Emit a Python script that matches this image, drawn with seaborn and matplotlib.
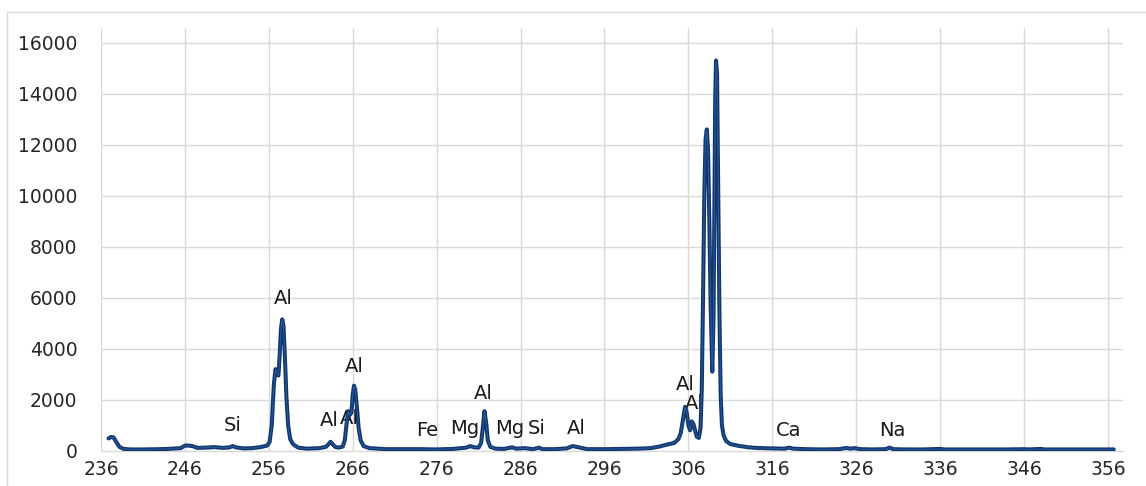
import matplotlib
matplotlib.use("Agg")
import matplotlib.pyplot as plt
import seaborn as sns
import pandas as pd
from matplotlib.lines import Line2D

# Wavelength (nm) and intensity
wavelength = [
    236.9, 237.2, 237.5, 237.8, 238.2, 238.7, 239.5, 241.0, 243.0, 244.0,
    245.5, 246.0, 246.5, 247.0, 247.5, 248.5, 249.5, 250.5, 251.3, 251.7,
    252.1, 253.0, 254.0, 255.0, 255.8, 256.1, 256.35, 256.6, 256.8, 257.0,
    257.15, 257.3, 257.45, 257.6, 257.75, 257.9, 258.1, 258.3, 258.55, 258.9,
    259.5, 260.5, 262.0, 262.8, 263.1, 263.35, 263.6, 263.9, 264.3, 264.8,
    265.05, 265.25, 265.45, 265.65, 265.85, 266.0, 266.15, 266.3, 266.5, 266.7,
    266.95, 267.3, 268.0, 270.0, 272.0, 274.0, 276.0, 278.0, 279.5, 280.0,
    280.5, 281.0, 281.3, 281.5, 281.7, 281.9, 282.1, 282.4, 283.0, 284.0,
    285.0, 285.5, 286.5, 287.5, 288.2, 288.6, 290.0, 291.5, 292.2, 292.7,
    293.2, 294.0, 296.0, 298.0, 300.0, 301.5, 302.5, 303.2, 303.7, 304.3,
    304.8, 305.1, 305.35, 305.6, 305.8, 306.0, 306.2, 306.4, 306.6, 306.8,
    307.0, 307.25, 307.45, 307.6, 307.75, 307.9, 308.05, 308.2, 308.35, 308.5,
    308.65, 308.85, 309.0, 309.1, 309.2, 309.3, 309.42, 309.55, 309.7, 309.85,
    310.0, 310.2, 310.5, 311.0, 312.0, 313.0, 314.0, 316.0, 317.5, 318.0,
    318.5, 320.0, 322.0, 324.0, 324.8, 325.3, 325.8, 326.5, 328.0, 329.5,
    330.0, 330.4, 332.0, 334.0, 336.0, 336.5, 340.0, 344.0, 346.0, 346.5,
    348.0, 348.5, 352.0, 356.7,
]
intensity = [
    480, 540, 520, 350, 150, 70, 50, 50, 60, 70,
    100, 200, 200, 170, 110, 120, 140, 110, 130, 180,
    130, 90, 100, 140, 200, 350, 1000, 2600, 3200, 3000,
    2950, 3800, 4800, 5150, 4900, 3800, 2100, 1000, 450, 250,
    120, 80, 100, 150, 250, 350, 260, 150, 120, 160,
    400, 1000, 1550, 1400, 1500, 2200, 2550, 2400, 1700, 900,
    400, 180, 100, 60, 60, 60, 50, 70, 120, 180,
    130, 120, 300, 900, 1550, 1100, 400, 150, 80, 70,
    130, 80, 100, 60, 120, 60, 60, 90, 180, 150,
    110, 60, 60, 70, 80, 100, 160, 220, 260, 300,
    450, 700, 1200, 1720, 1500, 1000, 800, 1150, 1050, 800,
    550, 500, 900, 2400, 6000, 10000, 12200, 12600, 11800, 9000,
    5800, 3100, 5200, 9500, 13800, 15300, 14800, 10500, 5500, 2200,
    1000, 600, 380, 260, 190, 140, 110, 90, 80, 120,
    80, 60, 50, 60, 110, 80, 100, 60, 50, 60,
    120, 60, 50, 50, 70, 50, 50, 50, 60, 50,
    70, 50, 50, 50,
]

# Element labels: text, x (nm), y (intensity)
label_text = ["Si", "Al", "Al", "Al", "Al", "Fe", "Mg", "Al", "Mg", "Si",
              "Al", "Al", "Al", "Ca", "Na"]
label_x = [251.7, 257.7, 263.2, 265.6, 266.2, 274.9, 279.3, 281.6, 284.7, 287.9,
           292.7, 305.6, 306.7, 318.0, 330.3]
label_y = [1000, 5950, 1200, 1270, 3300, 810, 880, 2260, 880, 880,
           880, 2600, 1850, 810, 810]

x_ticks = [236, 246, 256, 266, 276, 286, 296, 306, 316, 326, 336, 346, 356]
y_ticks = [0, 2000, 4000, 6000, 8000, 10000, 12000, 14000, 16000]

df = pd.DataFrame({"wavelength": wavelength, "intensity": intensity})

sns.set_style("white")
plt.rcParams["font.family"] = ["DejaVu Sans"]

fig = plt.figure(figsize=(11.46, 4.86), dpi=100)
ax = fig.add_axes([101 / 1146, 1 - 450.7 / 486, (1123 - 101) / 1146, (450.7 - 28) / 486])

ax.set_xlim(236, 357.8)
ax.set_ylim(0, 16576)

for xt in x_ticks:
    ax.axvline(xt, color="#d9d9d9", lw=1.0, zorder=0)
for yt in y_ticks[1:]:
    ax.axhline(yt, color="#d9d9d9", lw=1.0, zorder=0)

sns.lineplot(data=df, x="wavelength", y="intensity", ax=ax, color="#10346c",
             lw=2.9, sort=False, estimator=None, zorder=3,
             solid_joinstyle="round", solid_capstyle="round")
sns.lineplot(data=df, x="wavelength", y="intensity", ax=ax, color="#3a78bd",
             lw=0.9, sort=False, estimator=None, zorder=4, alpha=0.5)

for t, lx, ly in zip(label_text, label_x, label_y):
    ax.text(lx, ly, t, ha="center", va="center", fontsize=14, color="#1a1a1a", zorder=2)

ax.set_xticks(x_ticks)
ax.set_yticks(y_ticks)
ax.set_xticklabels([str(v) for v in x_ticks])
ax.set_yticklabels([str(v) for v in y_ticks])
ax.tick_params(axis="both", length=0, labelsize=13.5, colors="#262626")
ax.tick_params(axis="y", pad=17)
ax.tick_params(axis="x", pad=7)
ax.set_xlabel("")
ax.set_ylabel("")

for s in ["top", "right", "left"]:
    ax.spines[s].set_visible(False)
ax.spines["bottom"].set_color("#d9d9d9")
ax.spines["bottom"].set_linewidth(1.0)

# outer light frame of the chart area
fig.add_artist(Line2D([7 / 1146, 7 / 1146], [0, 1 - 12 / 486], transform=fig.transFigure,
                      color="#d9d9d9", lw=1.0))
fig.add_artist(Line2D([7 / 1146, 1], [1 - 12 / 486, 1 - 12 / 486], transform=fig.transFigure,
                      color="#d9d9d9", lw=1.0))

fig.savefig("out.png", dpi=100)
